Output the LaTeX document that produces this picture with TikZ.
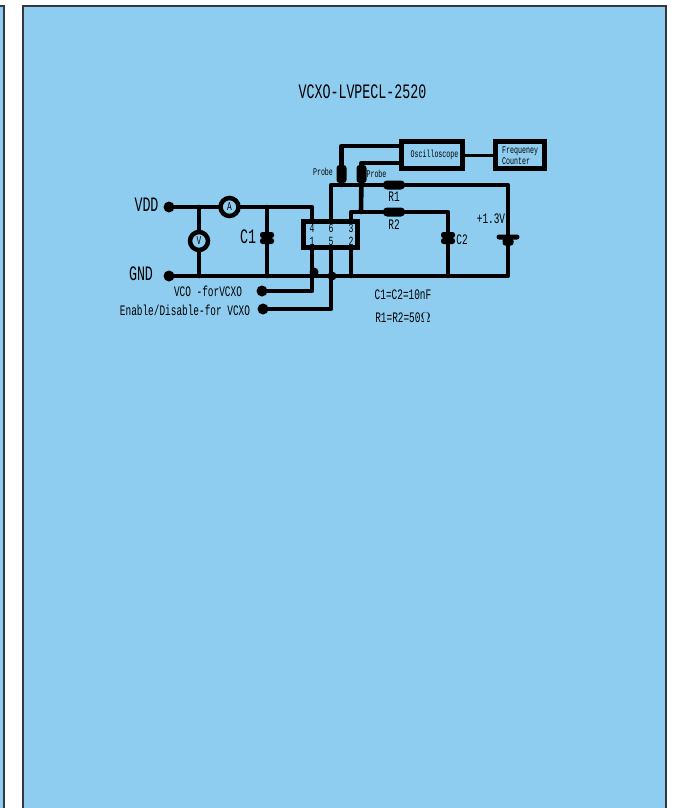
\documentclass[tikz,border=0pt]{standalone}
\usepackage{fontspec}
\newfontfamily\gothicfont[FakeStretch=0.65]{Liberation Mono}
\newcommand{\gsize}[1]{\gothicfont\fontsize{#1}{#1}\selectfont}
\usetikzlibrary{positioning, calc}
\definecolor{panelcolor}{RGB}{143, 205, 240}
\definecolor{edgecolor}{RGB}{50, 55, 65}

\begin{document}
\begin{tikzpicture}[
    x=1pt, y=-1pt,
    panel/.style={draw=edgecolor, line width=1.2pt, fill=panelcolor},
    wire/.style={line width=4.6pt, line join=round, line cap=round},
    thinwire/.style={line width=3pt},
    pindot/.style={circle, fill=black, inner sep=0pt, minimum size=11pt},
    joint/.style={circle, fill=black, inner sep=0pt, minimum size=9pt},
    meter/.style={circle, draw, line width=4.5pt, inner sep=0pt, minimum size=18pt, font=\gsize{12}},
    chipbox/.style={rectangle, draw, line width=5pt, minimum width=54pt, minimum height=26pt},
    instrument/.style={rectangle, draw, line width=5pt, minimum height=27pt, inner sep=0pt},
    resistor/.style={rectangle, fill=black, rounded corners=4pt, minimum width=22pt, minimum height=9pt, inner sep=0pt},
    plate/.style={rectangle, fill=black, rounded corners=2.5pt, minimum width=14pt, minimum height=6pt, inner sep=0pt},
    probe/.style={rectangle, fill=black, rounded corners=3pt, minimum width=10pt, minimum height=18pt, inner sep=0pt},
    label/.style={inner sep=0pt, font=\gsize{14.5}},
    small/.style={inner sep=0pt, font=\gsize{10.2}},
    big/.style={inner sep=0pt, font=\gsize{20.5}},
    pinlabel/.style={inner sep=0pt, font=\gsize{12.5}},
]

\clip (0,0) rectangle (678,808);

% Panels
\path[panel] (-30,6) rectangle (4,840);
\path[panel] (23,6) rectangle (666,840);

% Title
\node[big] (title) at (362.5,92) {VCXO-LVPECL-2520};

% Terminals
\node[pindot] (vdd) at (169,207) {};
\node[pindot] (gnd) at (169,276) {};
\node[pindot] (vco) at (262,291) {};
\node[pindot] (enable) at (263,309) {};
\node[big] (vddlabel) at (146.5,205) {VDD};
\node[big] (gndlabel) at (141,274) {GND};
\node[label] (vcolabel) at (208,291) {VCO -forVCXO};
\node[label] (enablelabel) at (185,310) {Enable/Disable-for VCXO};

% Meters
\node[meter] (ameter) at (229.5,207) {A};
\node[meter] (vmeter) at (199,241) {V};

% Chip
\node[chipbox] (chip) at (330.5,234.5) {};
\foreach \pinname/\pinx/\piny in {4/312/228.5, 6/331/228.5, 3/351/228.5, 1/312/241.5, 5/331/241.5, 2/351/241.5}
    \node[pinlabel] (pin\pinname) at (\pinx,\piny) {\pinname};

% Instruments
\node[instrument, minimum width=61pt] (scope) at (432,155) {};
\node[small] (scopelabel) at (434.5,154.5) {Oscilloscope};
\node[instrument, minimum width=49pt] (counter) at (520,155) {};
\node[small, align=left, anchor=west] (counterlabel) at (502,155.5) {Frequeney\\[1pt]Counter};

% Parts on the wires
\node[resistor] (r1) at (394,185) {};
\node[resistor] (r2) at (394,212) {};
\node[plate] (c1top) at (267,235) {};
\node[plate] (c1bot) at (267,241) {};
\node[plate] (c2top) at (448,235) {};
\node[plate] (c2bot) at (448,241) {};
\node[plate, minimum width=23pt, minimum height=5pt] (batlong) at (508,237) {};
\node[plate, minimum width=11pt, minimum height=7pt] (batshort) at (508,242) {};
\node[probe] (probea) at (341.5,174) {};
\node[probe] (probeb) at (361.5,174) {};

% Part labels
\node[big] (c1label) at (248,237) {C1};
\node[label] (c2label) at (462,240) {C2};
\node[label] (r1label) at (394,196.5) {R1};
\node[label] (r2label) at (394,224.5) {R2};
\node[label] (batlabel) at (491,219) {+1.3V};
\node[small] (probealabel) at (323,172) {Probe};
\node[small] (probeblabel) at (376.5,174) {Probe};
\node[label] (clabel) at (403,294.5) {C1=C2=10nF};
\node[label] (rlabel) at (403,318) {R1=R2=50$\Omega$};

% Junctions
\node[joint] (jfour) at (314,272) {};
\node[joint] (jfive) at (332,276) {};
\coordinate (vtap) at (199,207);
\coordinate (vbase) at (199,276);
\coordinate (ctap) at (267,207);
\coordinate (cbase) at (267,276);
\coordinate (ctwobase) at (448,276);
\coordinate (rail) at (508,276);
\coordinate (railtop) at (508,185);
\coordinate (sixtop) at (331,185);
\coordinate (sixin) at (331,221);
\coordinate (fourtop) at (312,207);
\coordinate (fourin) at (312,221);
\coordinate (oneout) at (312,248);
\coordinate (vcocorner) at (312,291);
\coordinate (fiveout) at (331,248);
\coordinate (fivecorner) at (331,309);
\coordinate (twoout) at (351,248);
\coordinate (twobase) at (351,276);
\coordinate (threein) at (351,221);
\coordinate (threetop) at (351,212);
\coordinate (tapb) at (361,212);
\coordinate (ctwotop) at (448,212);

% Wires
\draw[wire] (vdd) -- (ameter);
\draw[wire] (ameter) -- (fourtop) -- (fourin);
\draw[wire] (vtap) -- (vmeter);
\draw[wire] (vmeter) -- (vbase);
\draw[wire] (ctap) -- (c1top);
\draw[wire] (c1bot) -- (cbase);
\draw[wire] (gnd) -- (rail) -- (batshort);
\draw[wire] (oneout) -- (vcocorner) -- (vco);
\draw[wire] (fiveout) -- (fivecorner) -- (enable);
\draw[wire] (twoout) -- (twobase);
\draw[wire] (sixin) -- (sixtop) -- (r1);
\draw[wire] (r1) -- (railtop) -- (batlong);
\draw[wire] (threein) -- (threetop) -- (r2);
\draw[wire] (r2) -- (ctwotop) -- (c2top);
\draw[wire] (c2bot) -- (ctwobase);
\draw[wire] (tapb) -- (probeb);
\draw[wire] (probeb) |- (scope.west |- 0,163);
\draw[wire] (sixtop -| probea) -- (probea);
\draw[wire] (probea) |- (scope.west |- 0,146);
\draw[thinwire] (scope) -- (counter);

\end{tikzpicture}
\end{document}
